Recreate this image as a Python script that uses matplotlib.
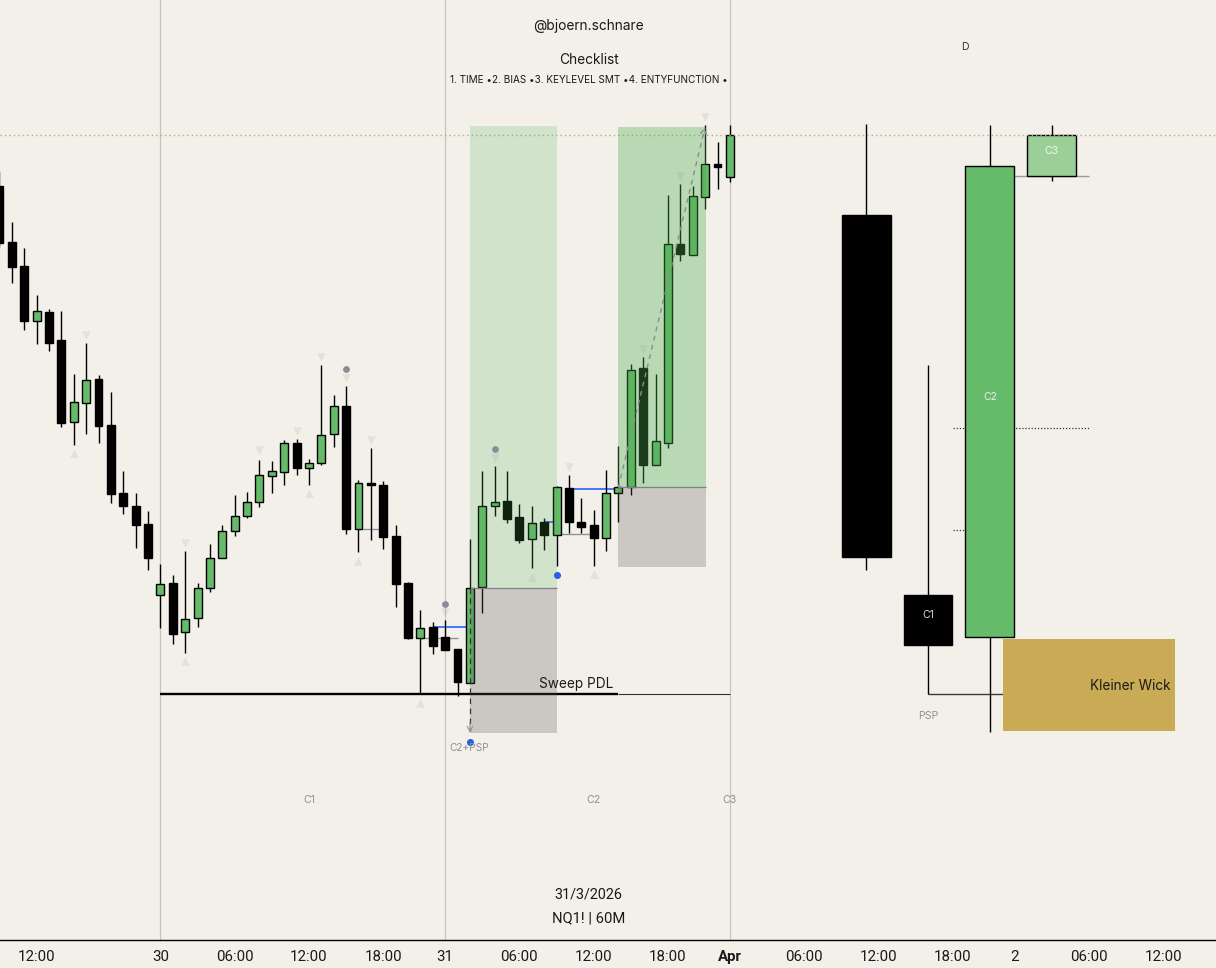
import matplotlib
matplotlib.use("Agg")
import matplotlib.pyplot as plt
from matplotlib.patches import Rectangle

# Hourly candles; index 0 is the session labelled "30". Price is read in chart rows (smaller = higher).
bar_index = list(range(-13, 46 + 1))
body_top = [186,242,266,311,312,340,402,380,379,425,493,506,524,584,583,619,588,558,531,516,502,475,
            471,443,443,463,435,406,406,483,483,485,536,583,628,627,637,649,588,506,502,501,517,523,
            522,487,488,522,525,493,487,370,368,441,244,244,196,164,164,135]
body_bot = [243,267,321,321,343,423,422,403,426,494,506,525,558,595,634,632,618,588,558,531,516,502,
            476,472,468,468,463,434,529,529,485,537,584,638,638,646,650,682,683,587,506,519,540,539,
            535,535,522,527,538,538,493,487,465,465,443,254,255,197,167,177]
wick_top = [171,222,248,295,309,311,374,343,375,392,471,493,511,564,575,551,583,544,525,495,492,460,
            461,440,439,459,365,395,386,480,448,481,525,582,610,622,620,649,539,471,466,471,504,506,
            518,486,475,498,510,470,446,364,357,374,195,184,186,125,142,125]
wick_bot = [247,283,330,344,351,427,445,434,443,503,514,548,570,628,644,653,627,592,558,536,518,507,
            493,485,475,485,465,447,534,552,540,549,607,639,694,654,650,696,683,613,516,523,543,568,
            550,566,533,533,566,551,522,495,483,465,448,261,255,209,189,182]
green_flags = [0,0,0,1,0,0,1,1,0,0,0,0,0,1,0,1,1,1,1,1,1,1,1,1,0,1,1,1,0,1,0,0,0,0,1,0,
               0,0,1,1,1,0,0,1,0,1,0,0,0,1,1,1,0,1,1,0,1,1,0,1]

# Higher-timeframe candles at the right
htf_x = [57, 62, 67, 72]
htf_top = [215, 595, 166, 135]
htf_bot = [557, 645, 637, 176]
htf_high = [124, 365, 125, 125]
htf_low = [570, 694, 732, 181]
htf_colors = ["#000000", "#000000", "#66bb6a", "#9bcf98"]
htf_labels = ["", "C1", "C2", "C3"]
htf_label_y = [0, 615.5, 397, 150.5]
htf_label_colors = ["white", "#d8d8d8", "#e4f2e2", "#eef6ec"]

tick_pos = [-10, 0, 6, 12, 18, 23, 29, 35, 41, 46, 52, 58, 64, 69, 75, 81]
tick_text = ["12:00", "30", "06:00", "12:00", "18:00", "31", "06:00", "12:00", "18:00", "Apr",
             "06:00", "12:00", "18:00", "2", "06:00", "12:00"]
day_lines = [0, 23, 46]

tri_down_x = [-6, 2, 8, 11, 13, 15, 17, 23, 27, 33, 39, 42, 44]
tri_down_y = [335, 543, 450, 431, 357, 378, 440, 612, 458, 467, 349, 176, 117]
tri_up_x = [-7, 2, 12, 16, 21, 30, 35]
tri_up_y = [453, 661, 493, 561, 703, 577, 574]
grey_dot_x = [15, 23, 27]
grey_dot_y = [369, 604, 449]
blue_dot_x = [25, 32]
blue_dot_y = [742, 575]

BG = "#f3f0ea"
GREEN = "#66bb6a"
BAR_PX = 12.38
ORIGIN_PX = 160.4
W, H, AXIS_ROW = 1216, 968, 940

fig = plt.figure(figsize=(12.16, 9.68), dpi=100, facecolor=BG)
ax = fig.add_axes([0, (H - AXIS_ROW) / H, 1, AXIS_ROW / H], facecolor=BG)
ax.set_xlim(-ORIGIN_PX / BAR_PX, (W - ORIGIN_PX) / BAR_PX)
ax.set_ylim(AXIS_ROW, 0)
for s in ["top", "left", "right"]:
    ax.spines[s].set_visible(False)
ax.spines["bottom"].set_linewidth(1.0)
ax.set_yticks([])
ax.set_xticks(tick_pos)
ax.set_xticklabels(tick_text, family="Roboto", fontsize=10.8, color="#1a1a1a")
ax.tick_params(axis="x", length=0, pad=7.2)
ax.get_xticklabels()[tick_text.index("Apr")].set_fontweight("bold")

for d in day_lines:
    ax.axvline(d, color="#c4c4c2", lw=0.9, zorder=1)
ax.axhline(135, color="#b8a878", lw=1.0, ls=(0, (1, 2.2)), zorder=4.5)

# Candles
ax.vlines(bar_index, wick_top, wick_bot, color="black", lw=1.0, zorder=3)
colors = [GREEN if g else "black" for g in green_flags]
ax.bar(bar_index, [b - t for t, b in zip(body_top, body_bot)], bottom=body_top, width=0.64,
       color=colors, edgecolor="black", linewidth=1.0, zorder=4)

# Level lines
ax.hlines([528.5, 637.5, 534], [16, 21, 32], [18, 24, 35], color="#8f909a", lw=1.0, zorder=2)
ax.hlines([627, 488.5, 522], [22, 33, 31], [25, 37, 32], color="#2962ff", lw=1.2, zorder=2)
ax.hlines(694, 0, 37, color="black", lw=1.7, zorder=3)
ax.hlines(694, 37, 46, color="#333333", lw=0.8, zorder=3)

# Zones, laid over the candles
def zone(x0, x1, y0, y1, c, a):
    ax.add_patch(Rectangle((x0, y0), x1 - x0, y1 - y0, facecolor=c, alpha=a, edgecolor="none", zorder=5))

zone(25, 32.05, 126, 588, "#4caf50", 0.2)
zone(37, 44.1, 127, 487, "#4caf50", 0.35)
zone(25, 32.05, 588, 733, "#545452", 0.25)
zone(37, 44.1, 487, 567, "#545452", 0.25)
ax.hlines([588, 487], [25, 37], [32.05, 44.1], color="#808080", lw=0.9, zorder=6)

# Pattern markers
ax.scatter(tri_down_x, tri_down_y, marker="v", s=40, color="#787b86", alpha=0.12, linewidths=0, zorder=6)
ax.scatter(tri_up_x, tri_up_y, marker="^", s=40, color="#787b86", alpha=0.12, linewidths=0, zorder=6)
ax.scatter(grey_dot_x, grey_dot_y, s=24, color="#8a8d98", linewidths=0, zorder=7)
ax.scatter(blue_dot_x, blue_dot_y, s=26, color="#2962e0", linewidths=0, zorder=7)

# Dashed arrows
ax.plot([25, 25], [588, 731], color="#333333", lw=0.9, ls=(0, (4.5, 3.5)), zorder=7)
ax.annotate("", xy=(25, 733), xytext=(25, 722), zorder=7,
            arrowprops=dict(arrowstyle="->", lw=0.8, color="#999999", shrinkA=0, shrinkB=0))
ax.annotate("", xy=(44, 127), xytext=(37, 487), zorder=7,
            arrowprops=dict(arrowstyle="->", ls=(0, (2.8, 4)), lw=1.0, color="#8c8c8c", shrinkA=0, shrinkB=0))

# Higher-timeframe panel
ax.hlines(176, 67, 75, color="#9a9ba3", lw=1.0, zorder=2)
ax.hlines(428, 64, 75, color="#333333", lw=0.9, ls=(0, (1, 1.5)), zorder=2)
ax.hlines(530, 64, 69, color="#333333", lw=0.9, ls=(0, (1, 1.5)), zorder=2)
ax.hlines(694, 62, 69, color="#333a44", lw=1.0, zorder=2)
ax.vlines(htf_x, htf_high, htf_low, color="black", lw=1.0, zorder=3)
ax.bar(htf_x, [b - t for t, b in zip(htf_top, htf_bot)], bottom=htf_top, width=3.95,
       color=htf_colors, edgecolor="black", linewidth=1.0, zorder=4)
ax.add_patch(Rectangle((68.05, 639), 13.9, 92, facecolor="#c9aa55", edgecolor="none", zorder=5))

F = "Inter"
def label(x, y, s, size, color="#1a1a1a", ha="center"):
    ax.text(x, y, s, family=F, fontsize=size, color=color, ha=ha, va="center", zorder=8)

for x, y, s, c in zip(htf_x, htf_label_y, htf_labels, htf_label_colors):
    if s:
        label(x, y, s, 7.5, c)
label(81.6, 685.5, "Kleiner Wick", 9.8, "#1a1a1a", "right")
label(33.6, 684, "Sweep PDL", 9.8)
label(62, 716, "PSP", 7.6, "#8f9098")
label(24.95, 748, "C2+PSP", 7.3, "#8f9098")
label(12, 800, "C1", 7.6, "#8f9098")
label(35, 800, "C2", 7.6, "#8f9098")
label(46, 800, "C3", 7.6, "#8f9098")
label(34.6, 26, "@bjoern.schnare", 9.9)
label(34.6, 59.5, "Checklist", 9.9)
label(34.6, 80, "1. TIME \u20222. BIAS \u20223. KEYLEVEL SMT \u20224. ENTYFUNCTION \u2022", 7.2)
label(64.95, 46.5, "D", 7.6, "#333333")
ax.text(34.6, 894.5, "31/3/2026", family="Roboto", fontsize=10.4, color="#1a1a1a", ha="center", va="center", zorder=8)
ax.text(34.6, 918.5, "NQ1! | 60M", family="Roboto", fontsize=10.6, color="#1a1a1a", ha="center", va="center", zorder=8)

fig.savefig("out.png", dpi=100, facecolor=BG)
